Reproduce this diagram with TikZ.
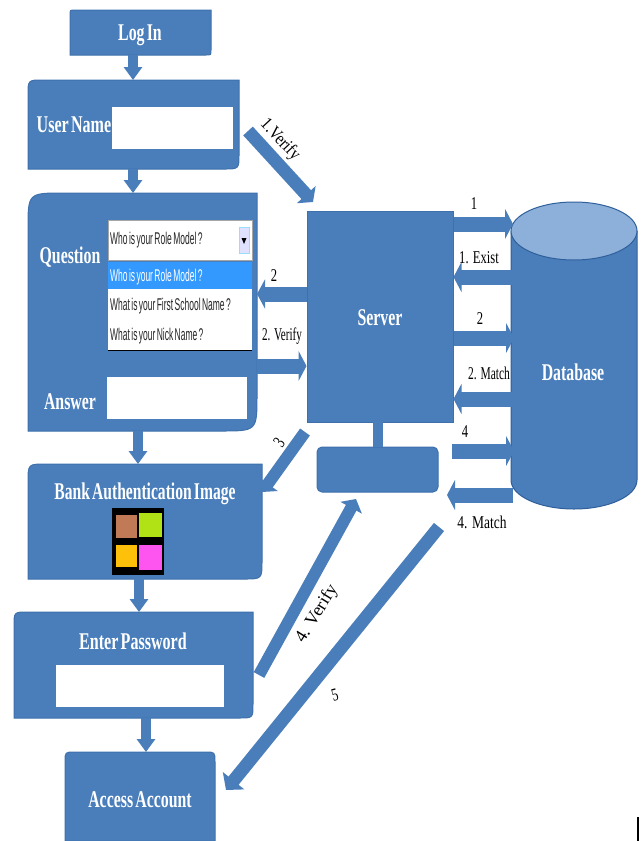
\documentclass[tikz,border=0pt]{standalone}
\usepackage{fontspec}
\setmainfont{Liberation Serif}
\newfontfamily\uifont{Liberation Sans}
\usetikzlibrary{arrows.meta,calc}
\definecolor{boxblue}{HTML}{4A7EBB}
\definecolor{boxedge}{HTML}{3E70AC}
\definecolor{lidblue}{HTML}{8DB0DA}
\definecolor{lidedge}{HTML}{2F5F9A}
\definecolor{pickblue}{HTML}{3399FF}
\newcommand\sq[2][.66]{\scalebox{#1}[1]{#2}}
\newcommand\tighthead{\spaceskip=.14em\relax}
\newcommand\tightui{\spaceskip=.16em\relax}
\newcommand\cutbox[5]{\draw[boxshape] (#1,#4) -- (#1,#2+#5) .. controls (#1,#2) .. (#1+#5,#2) -- (#3,#2) -- (#3,#4-#5) .. controls (#3,#4) .. (#3-#5,#4) -- cycle;}
\tikzset{
  boxshape/.style={fill=boxblue,draw=boxedge,line width=1pt},
  head/.style={text=white,font=\bfseries\fontsize{24}{24}\selectfont\tighthead,inner sep=0pt},
  tag/.style={text=black,font=\fontsize{18}{18}\selectfont,inner sep=0pt},
  uitext/.style={font=\uifont\fontsize{17}{17}\selectfont\tightui,inner sep=0pt,anchor=west,text=black!85},
  field/.style={fill=white,draw=none,inner sep=0pt,anchor=north west},
  blk/.style n args={3}{line width=#1pt,draw=boxblue,-{Triangle[length=#3pt,width=#2pt,fill=boxblue]}},
  vblk/.style={blk={10}{18}{13}},
  hblk/.style={blk={15}{30}{8}}
}
\begin{document}
\begin{tikzpicture}[x=1pt,y=-1pt]
\useasboundingbox (0,0) rectangle (641,841);
% boxes
\cutbox{70}{10}{211}{55}{5}
\node[head] (login) at (140,35) {\sq{Log In}};
\cutbox{28}{80}{239}{169}{15}
\node[head] (username) at (74,125) {\sq[.67]{User Name}};
\cutbox{28}{193}{257}{431}{36}
\node[head] (question) at (70,257) {\sq{Question}};
\node[head] (answer) at (70,402) {\sq{Answer}};
\cutbox{28}{464}{262}{579}{18}
\node[head] (bank) at (145,494) {\sq[.65]{Bank Authentication Image}};
\cutbox{14}{612}{253}{718}{14}
\node[head] (enter) at (133,641) {\sq[.67]{Enter Password}};
\draw[boxshape] (65,841) -- (65,762) .. controls (65,752) .. (75,752) -- (205,752) .. controls (215,752) .. (215,762) -- (215,841) -- cycle;
\node[head] (access) at (140,800) {\sq[.66]{Access Account}};
% fields
\node[field,minimum width=121pt,minimum height=42pt] (userfield) at (112,107) {};
\node[field,minimum width=140pt,minimum height=42pt] (answerfield) at (107,377) {};
\node[field,minimum width=168pt,minimum height=42pt] (passfield) at (56,665) {};
% dropdown
\node[field,minimum width=144pt,minimum height=40pt,fill=white,draw=gray!70,line width=1.2pt] (combo) at (108,220) {};
\node[field,minimum width=10pt,minimum height=26pt,fill=blue!12,draw=cyan!40] (combobtn) at (239,227) {};
\fill[black] (241.5,238) -- (246.5,238) -- (244,244) -- cycle;
\node[uitext] (comboText) at (110,240) {\sq[.5]{Who is your Role Model ?}};
\node[field,minimum width=144pt,minimum height=88pt] (list) at (108,262) {};
\draw[black,line width=1pt] (list.south west) -- (list.south east);
\node[field,fill=pickblue,minimum width=144pt,minimum height=27pt] (pick) at (108,262) {};
\node[uitext,text=white] (opt1) at (110,277) {\sq[.5]{Who is your Role Model ?}};
\node[uitext] (opt2) at (110,306) {\sq[.5]{What is your First School Name ?}};
\node[uitext] (opt3) at (110,336) {\sq[.5]{What is your Nick Name ?}};
% colour image
\node[field,fill=black,minimum width=52pt,minimum height=67pt] (swatches) at (112,508) {};
\fill[fill={rgb,255:red,193;green,122;blue,86}] (116,515) rectangle (137,538);
\fill[fill={rgb,255:red,176;green,226;blue,22}] (139,513) rectangle (162,537);
\fill[fill={rgb,255:red,255;green,192;blue,10}] (116,545) rectangle (137,567);
\fill[fill={rgb,255:red,255;green,85;blue,240}] (139,545) rectangle (162,570);
% server
\node[fill=boxblue,draw=boxedge,line width=1pt,minimum width=146pt,minimum height=211pt,inner sep=0pt] (server) at (380,316.5) {};
\node[head] (serverlabel) at (380,318) {\sq{Server}};
\node[fill=boxblue,draw=boxedge,line width=1pt,rounded corners=5pt,minimum width=121pt,minimum height=45pt,inner sep=0pt] (base) at (377.5,469.5) {};
\fill[boxblue] (373,422) rectangle (383,447);
% database
\draw[boxshape,draw=lidedge] (511,231) -- (511,480) arc[start angle=180,end angle=360,x radius=63,y radius=-29] -- (637,231) -- cycle;
\draw[boxshape,draw=lidedge,fill=lidblue] (574,231) ellipse[x radius=63,y radius=29];
\node[head] (db) at (573,372) {\sq{Database}};
% vertical connectors
\coordinate (v1) at (133,55); \coordinate (v1e) at (133,80);
\coordinate (v2) at (133,169); \coordinate (v2e) at (133,193);
\coordinate (v3) at (138,431); \coordinate (v3e) at (138,464);
\coordinate (v4) at (139,575); \coordinate (v4e) at (139,612);
\coordinate (v5) at (146,718); \coordinate (v5e) at (146,752);
\draw[vblk] (v1) -- (v1e);
\draw[vblk] (v2) -- (v2e);
\draw[vblk] (v3) -- (v3e);
\draw[vblk] (v4) -- (v4e);
\draw[vblk] (v5) -- (v5e);
% server <-> question
\coordinate (q2) at (257,294); \coordinate (q2v) at (257,366);
\draw[blk={15}{29}{8}] (server.west |- q2) -- (q2);
\draw[blk={15}{30}{8}] (q2v) -- (server.west |- q2v);
% server <-> database
\coordinate (d1) at (513,224); \coordinate (d1x) at (513,277);
\coordinate (d2) at (514,338); \coordinate (d2x) at (513,399);
\coordinate (d4s) at (452,451); \coordinate (d4) at (514,451);
\coordinate (d4m) at (513,495); \coordinate (d4t) at (447,495);
\draw[hblk] (server.east |- d1) -- (d1);
\draw[hblk] (d1x) -- (server.east |- d1x);
\draw[hblk] (server.east |- d2) -- (d2);
\draw[hblk] (d2x) -- (server.east |- d2x);
\draw[hblk] (d4s) -- (d4);
\draw[hblk] (d4m) -- (d4t);
% diagonal connectors
\coordinate (ds1) at (248,131); \coordinate (de1) at (313,202);
\coordinate (ds3) at (305,432); \coordinate (de3) at (262,492);
\coordinate (ds4) at (259,675); \coordinate (de4) at (356,499);
\coordinate (ds5) at (439,527); \coordinate (de5) at (226,790);
\draw[blk={13}{25}{10}] (ds1) -- (de1);
\draw[blk={12}{24}{10}] (ds3) -- (de3);
\draw[blk={12}{24}{10}] (ds4) -- (de4);
\draw[blk={13}{27}{12}] (ds5) -- (de5);
% labels
\node[tag,rotate=-47] (t1) at (280,140) {\sq[.85]{1.Verify}};
\node[tag] (t2) at (274,276) {\sq[.7]{2}};
\node[tag] (t2v) at (282,336) {\sq[.62]{2. Verify}};
\node[tag,rotate=55] (t3) at (279,443) {\sq[.7]{3}};
\node[tag] (t4) at (474,204) {\sq[.7]{1}};
\node[tag] (t5) at (479,258) {\sq[.7]{1. Exist}};
\node[tag] (t6) at (480,319) {\sq[.7]{2}};
\node[tag] (t7) at (489,373) {\sq[.64]{2. Match}};
\node[tag] (t8) at (465,432) {\sq[.7]{4}};
\node[tag] (t9) at (482,522) {\sq[.75]{4. Match}};
\node[tag,rotate=58] (t10) at (317,614) {\sq[1]{4. Verify}};
\node[tag,rotate=15] (t11) at (335,695) {\sq[.7]{5}};
\fill[black] (637,817) rectangle (639,841);
\end{tikzpicture}
\end{document}
